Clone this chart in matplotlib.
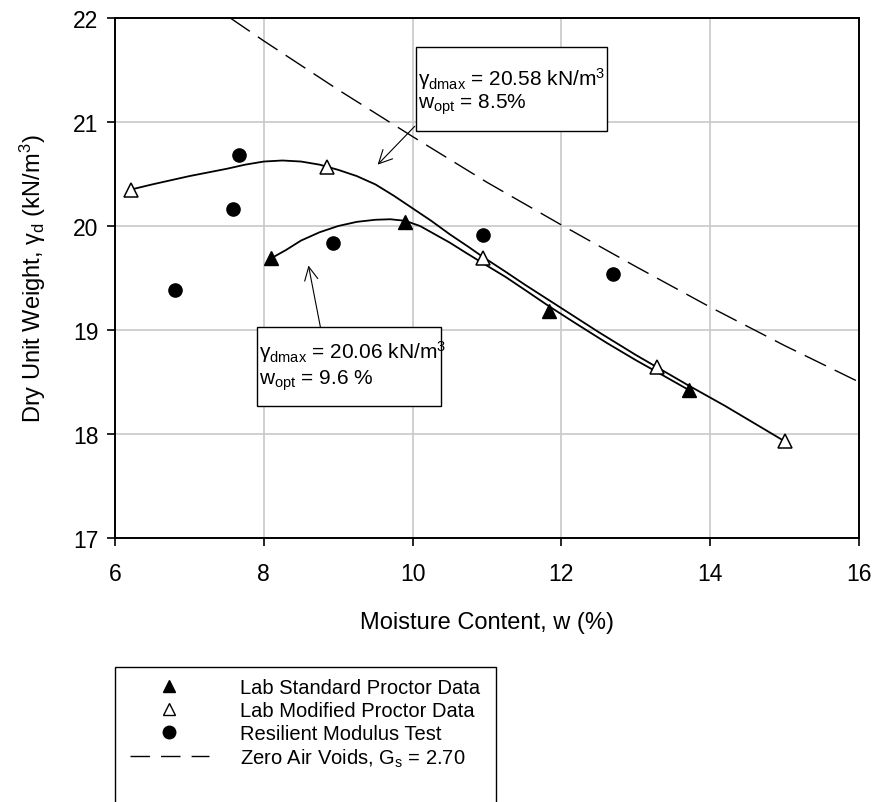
import matplotlib.pyplot as plt
from matplotlib.lines import Line2D
from matplotlib.patches import Rectangle

plt.rcParams['font.family'] = ['Liberation Sans', 'DejaVu Sans']
plt.rcParams['mathtext.fontset'] = 'custom'
plt.rcParams['mathtext.rm'] = 'Liberation Sans'
plt.rcParams['mathtext.it'] = 'Liberation Sans'

# measured points
std_w = [8.1, 9.9, 11.83, 13.72]
std_gd = [19.69, 20.04, 19.18, 18.42]

mod_w = [6.21, 8.85, 10.95, 13.29, 15.0]
mod_gd = [20.35, 20.57, 19.69, 18.64, 17.93]

mr_w = [6.81, 7.58, 7.67, 8.93, 10.95, 12.7]
mr_gd = [19.38, 20.16, 20.68, 19.84, 19.91, 19.54]

# fitted compaction curves
mod_fit_w = [6.21, 6.5, 7.0, 7.5, 7.75, 8.0, 8.25, 8.5, 8.75, 9.0, 9.25, 9.5, 9.75,
             10.0, 10.25, 10.5, 10.75, 10.95, 11.25, 11.5, 12.0, 12.5, 13.0, 13.29,
             13.7, 14.2, 14.6, 15.0]
mod_fit_gd = [20.35, 20.40, 20.48, 20.55, 20.59, 20.62, 20.63, 20.62, 20.59, 20.54,
              20.48, 20.40, 20.29, 20.17, 20.05, 19.92, 19.80, 19.70, 19.56, 19.44,
              19.21, 18.98, 18.76, 18.64, 18.47, 18.27, 18.10, 17.93]

std_fit_w = [8.1, 8.3, 8.5, 8.75, 9.0, 9.25, 9.5, 9.7, 9.9, 10.1, 10.3, 10.5, 10.7,
             10.95, 11.25, 11.5, 11.83, 12.2, 12.6, 13.0, 13.3, 13.72]
std_fit_gd = [19.69, 19.77, 19.86, 19.94, 20.00, 20.04, 20.06, 20.065, 20.05, 20.00,
              19.92, 19.84, 19.75, 19.64, 19.51, 19.39, 19.23, 19.06, 18.88, 18.71,
              18.59, 18.42]

# zero air voids line, Gs = 2.70
zav_w = [7.55, 8, 9, 10, 11, 12, 13, 14, 15, 16]
zav_gd = [22.0, 21.78, 21.31, 20.86, 20.42, 20.01, 19.61, 19.22, 18.85, 18.50]

fig = plt.figure(figsize=(8.76, 8.03), dpi=100)
ax = fig.add_axes([0.1313, 0.3288, 0.8493, 0.6475])

ax.grid(True, color='#c8c8c8', linewidth=1.2)
ax.set_axisbelow(True)

ax.plot(zav_w, zav_gd, color='black', linewidth=1, dashes=(17, 7))
ax.plot(mod_fit_w, mod_fit_gd, color='black', linewidth=1.3)
ax.plot(std_fit_w, std_fit_gd, color='black', linewidth=1.3)

ax.plot(std_w, std_gd, linestyle='none', marker='^', markersize=9.5,
        markerfacecolor='black', markeredgecolor='black')
ax.plot(mod_w, mod_gd, linestyle='none', marker='^', markersize=9.5,
        markerfacecolor='white', markeredgecolor='black', markeredgewidth=1.1)
ax.plot(mr_w, mr_gd, linestyle='none', marker='o', markersize=9.5,
        markerfacecolor='black', markeredgecolor='black')

ax.set_xlim(6, 16)
ax.set_ylim(17, 22)
ax.set_xticks([6, 8, 10, 12, 14, 16])
ax.set_yticks([17, 18, 19, 20, 21, 22])
ax.tick_params(direction='out', length=6, width=1.2, labelsize=16.5,
               top=False, right=False)
ax.tick_params(axis='x', pad=11)
ax.tick_params(axis='y', pad=6)
for s in ax.spines.values():
    s.set_linewidth(1.4)

ax.set_xlabel('Moisture Content, w (%)', fontsize=17, labelpad=19)
ax.set_ylabel(r'Dry Unit Weight, $\mathregular{γ_d}$ (kN/m$^\mathregular{3}$)',
              fontsize=17, labelpad=18)

arrow = dict(arrowstyle='->', color='black', linewidth=0.8,
             mutation_scale=24, shrinkA=0, shrinkB=0)

# annotation boxes: corner, width, height, text lines, line offsets, arrow
boxes = [
    ((10.05, 20.91), 2.56, 0.81,
     '$\\mathregular{γ_{dmax}}$ = 20.58 kN/m$^\\mathregular{3}$',
     '$\\mathregular{w_{opt}}$ = 8.5%', (0.30, 0.54), (9.53, 20.59), (10.03, 20.96)),
    ((7.91, 18.27), 2.47, 0.76,
     '$\\mathregular{γ_{dmax}}$ = 20.06 kN/m$^\\mathregular{3}$',
     '$\\mathregular{w_{opt}}$ = 9.6 %', (0.23, 0.51), (8.6, 19.62), (8.76, 19.03)),
]
for (x0, y0), bw, bh, line1, line2, (d1, d2), tip, tail in boxes:
    ax.add_patch(Rectangle((x0, y0), bw, bh, facecolor='white',
                           edgecolor='black', linewidth=1, zorder=5))
    ax.text(x0 + 0.02, y0 + bh - d1, line1, fontsize=15, va='center',
            ha='left', zorder=6)
    ax.text(x0 + 0.02, y0 + bh - d2, line2, fontsize=15, va='center',
            ha='left', zorder=6)
    ax.annotate('', xy=tip, xytext=tail, arrowprops=arrow)

# legend
fig.patches.append(Rectangle((115 / 876, -0.05), (496 - 115) / 876,
                             1 - 668 / 803 + 0.05, transform=fig.transFigure,
                             facecolor='white', edgecolor='black', linewidth=1))
handles = [
    Line2D([], [], linestyle='none', marker='^', markersize=9,
           markerfacecolor='black', markeredgecolor='black'),
    Line2D([], [], linestyle='none', marker='^', markersize=9,
           markerfacecolor='white', markeredgecolor='black'),
    Line2D([], [], linestyle='none', marker='o', markersize=9,
           markerfacecolor='black', markeredgecolor='black'),
    Line2D([], [], color='black', linewidth=1, dashes=(14, 8)),
]
labels = ['Lab Standard Proctor Data', 'Lab Modified Proctor Data',
          'Resilient Modulus Test', r'Zero Air Voids, $\mathregular{G_s}$ = 2.70']
fig.legend(handles, labels, loc='upper left',
           bbox_to_anchor=(130 / 876, 1 - 679 / 803), frameon=False,
           fontsize=14.5, handlelength=3.9, handletextpad=1.55,
           labelspacing=0.19, borderpad=0, borderaxespad=0)

fig.savefig('out.png', dpi=100)
